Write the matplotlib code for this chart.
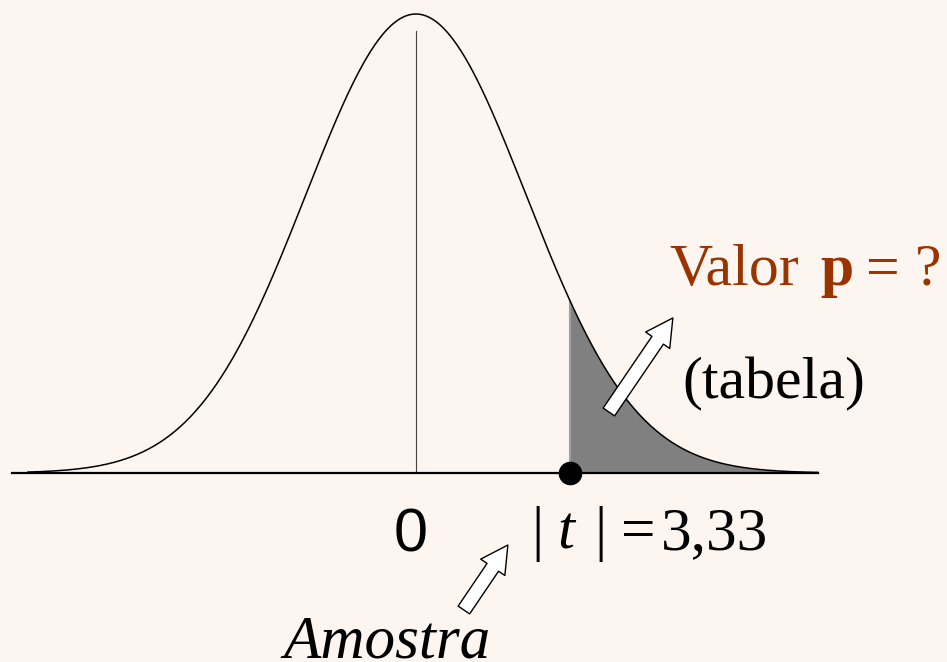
import numpy as np
import matplotlib
matplotlib.use("Agg")
import matplotlib.pyplot as plt

# --- values -------------------------------------------------------------
t_obs = 3.33            # observed statistic |t|
t_label = "3,33"
curve_scale = 2.38      # spread of the sketched density (t units)
curve_range = (-8.39, 8.69)
axis_range = (-8.73, 8.69)
centre = 0.0
centre_label = "0"

BG = "#fdf5ef"
BROWN = "#993300"
SERIF = "Liberation Serif"

fig = plt.figure(figsize=(9.47, 6.62), dpi=100, facecolor=BG)
ax = fig.add_axes([0, 0, 1, 1], facecolor=BG)
ax.set_xlim(-8.995, 11.486)
ax.set_ylim(-0.4118, 1.0305)
ax.axis("off")

# density curve (peak normalised to 1)
x = np.linspace(*curve_range, 600)
y = np.exp(-0.5 * (x / curve_scale) ** 2)
ax.plot(x, y, color="black", lw=1.1, zorder=3)

# upper tail beyond |t|
xt = np.linspace(t_obs, curve_range[1], 300)
yt = np.exp(-0.5 * (xt / curve_scale) ** 2)
ax.fill_between(xt, 0, yt, color="#808080", lw=0, zorder=2)
ax.plot([t_obs, t_obs], [0, yt[0]], color="#a0a0a0", lw=1.5, zorder=2)

# horizontal axis and centre line
ax.plot(axis_range, [0, 0], color="black", lw=1.6, zorder=4)
ax.plot([centre, centre], [0, 0.963], color="#444444", lw=0.8, zorder=1)

# observed value marker
ax.plot([t_obs], [0], "o", color="black", ms=16, zorder=5)

# labels
ax.text(-0.108, -0.1721, centre_label, family="Liberation Sans", fontsize=44,
        ha="center", va="baseline")

base_t = -0.1656
ax.text(2.490, base_t, "|", family=SERIF, fontsize=44, ha="left", va="baseline")
ax.text(3.050, base_t, "t", family=SERIF, style="italic", fontsize=44,
        ha="left", va="baseline")
ax.text(3.870, base_t, "|", family=SERIF, fontsize=44, ha="left", va="baseline")
ax.text(4.430, base_t, "=", family=SERIF, fontsize=44, ha="left", va="baseline")
ax.text(5.297, base_t, t_label, family=SERIF, fontsize=44, ha="left", va="baseline")

base_v = 0.4096
ax.text(5.492, base_v, "Valor", family=SERIF, fontsize=43, color=BROWN,
        ha="left", va="baseline")
ax.text(8.735, base_v, "p", family=SERIF, weight="bold", fontsize=43,
        color=BROWN, ha="left", va="baseline")
ax.text(9.730, base_v, "=", family=SERIF, fontsize=43, color=BROWN,
        ha="left", va="baseline")
ax.text(10.789, base_v, "?", family=SERIF, fontsize=43, color=BROWN,
        ha="left", va="baseline")

ax.text(5.773, 0.1634, "(tabela)", family=SERIF, fontsize=43,
        ha="left", va="baseline")
ax.text(-2.876, -0.4010, "Amostra", family=SERIF, style="italic",
        fontsize=44, ha="left", va="baseline")

# hollow block arrows
arrow_style = "simple,head_length=1.94,head_width=2.1,tail_width=1.0"
for tail, tip in [((4.173, 0.1329), (5.557, 0.3377)),
                  ((1.038, -0.2985), (1.989, -0.1569))]:
    ax.annotate("", xy=tip, xytext=tail,
                arrowprops=dict(arrowstyle=arrow_style, mutation_scale=10,
                                fc="white", ec="black", lw=1.0,
                                shrinkA=0, shrinkB=0),
                zorder=6)

fig.savefig("out.png", dpi=100, facecolor=BG)
